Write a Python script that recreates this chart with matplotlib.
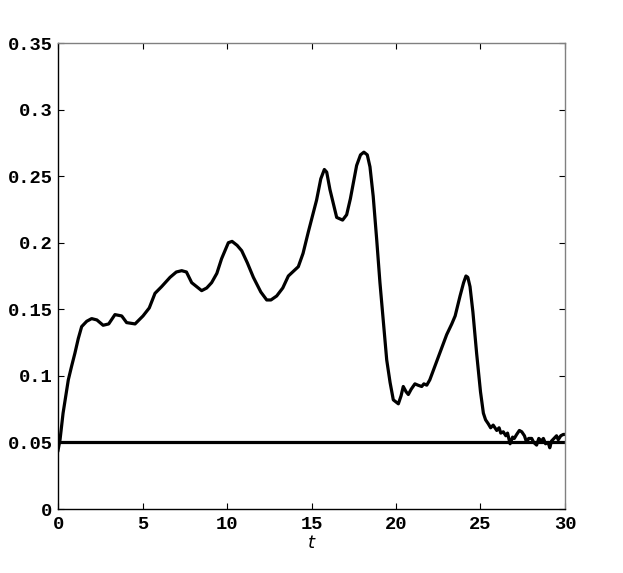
import matplotlib
matplotlib.use("Agg")
import matplotlib.pyplot as plt

t_vals = [0.0, 0.12, 0.3, 0.61, 0.8, 1.0, 1.2, 1.4, 1.7, 1.99, 2.3, 2.67, 3.0, 3.37, 3.77, 4.06, 4.56, 5.03,
          5.4, 5.74, 6.13, 6.63, 7.0, 7.32, 7.6, 7.91, 8.2, 8.5, 8.8, 9.09, 9.4, 9.68, 10.08, 10.3,
          10.6, 10.87, 11.2, 11.56, 12.0, 12.35, 12.6, 12.94, 13.3, 13.63, 13.8, 14.22, 14.5,
          14.81, 15.3, 15.55, 15.76, 15.9, 16.09, 16.49, 16.84, 17.08, 17.3, 17.67, 17.9, 18.1,
          18.3, 18.46, 18.65, 18.86, 19.05, 19.35, 19.45, 19.65, 19.84, 20.14, 20.3, 20.43, 20.6,
          20.73, 20.9, 21.12, 21.3, 21.52, 21.65, 21.82, 22.0, 22.41, 22.7, 23.0, 23.3, 23.5, 23.79,
          24.0, 24.14, 24.25, 24.38, 24.55, 24.77, 25.0, 25.17, 25.3, 25.46, 25.6, 25.75, 25.96,
          26.1, 26.2, 26.35, 26.5, 26.6, 26.75, 26.9, 27.0, 27.14, 27.3, 27.44, 27.6, 27.73, 27.85,
          28.03, 28.15, 28.32, 28.45, 28.6, 28.72, 28.85, 29.0, 29.1, 29.2, 29.35, 29.5, 29.6,
          29.75, 29.9, 30.0]
v_vals = [0.044, 0.052, 0.072, 0.097, 0.107, 0.117, 0.128, 0.137, 0.141, 0.143, 0.142, 0.138, 0.139, 0.146,
          0.145, 0.140, 0.139, 0.145, 0.151, 0.162, 0.167, 0.174, 0.178, 0.179, 0.178, 0.170,
          0.167, 0.164, 0.166, 0.170, 0.177, 0.188, 0.200, 0.201, 0.198, 0.194, 0.185, 0.174,
          0.163, 0.157, 0.157, 0.160, 0.166, 0.175, 0.177, 0.182, 0.192, 0.208, 0.232, 0.248,
          0.255, 0.253, 0.240, 0.219, 0.217, 0.221, 0.233, 0.258, 0.266, 0.268, 0.266, 0.257,
          0.235, 0.202, 0.170, 0.127, 0.112, 0.095, 0.082, 0.079, 0.085, 0.092, 0.088, 0.086,
          0.090, 0.094, 0.093, 0.092, 0.094, 0.093, 0.097, 0.111, 0.121, 0.131, 0.139, 0.145,
          0.160, 0.170, 0.175, 0.174, 0.167, 0.148, 0.117, 0.088, 0.072, 0.067, 0.064, 0.061,
          0.063, 0.059, 0.061, 0.057, 0.058, 0.055, 0.057, 0.049, 0.054, 0.053, 0.056, 0.059,
          0.058, 0.055, 0.050, 0.053, 0.053, 0.050, 0.048, 0.053, 0.051, 0.053, 0.049, 0.050,
          0.046, 0.051, 0.053, 0.055, 0.052, 0.055, 0.056, 0.056]
baseline_t = [0.0, 30.0]
baseline_v = [0.05, 0.05]

x_ticks = [0, 5, 10, 15, 20, 25, 30]
y_ticks = [0, 0.05, 0.1, 0.15, 0.2, 0.25, 0.3, 0.35]
y_ticklabels = ["0", "0.05", "0.1", "0.15", "0.2", "0.25", "0.3", "0.35"]

fig = plt.figure(figsize=(6.23, 5.73), dpi=100)
ax = fig.add_axes([58 / 623, 1 - 509 / 573, 507 / 623, 466 / 573])

ax.plot(baseline_t, baseline_v, color="black", lw=2.3, solid_capstyle="butt")
ax.plot(t_vals, v_vals, color="black", lw=2.3, solid_joinstyle="round")

ax.set_xlim(0, 30)
ax.set_ylim(0, 0.35)
ax.set_xticks(x_ticks)
ax.set_yticks(y_ticks)
ax.set_yticklabels(y_ticklabels)

for lab in ax.get_xticklabels() + ax.get_yticklabels():
    lab.set_fontfamily("Liberation Mono")
    lab.set_fontweight("bold")
    lab.set_fontsize(13.5)

ax.tick_params(direction="in", length=4, width=0.8, top=True, right=True, pad=4,
               colors="black")
ax.tick_params(axis="x", pad=5)

for side in ["left", "bottom"]:
    ax.spines[side].set_color("black")
    ax.spines[side].set_linewidth(1.0)
for side in ["top", "right"]:
    ax.spines[side].set_color("#808080")
    ax.spines[side].set_linewidth(1.0)

ax.set_xlabel("t", family="DejaVu Sans", style="italic", weight="light", size=13, labelpad=1)

fig.savefig("out.png", dpi=100)
